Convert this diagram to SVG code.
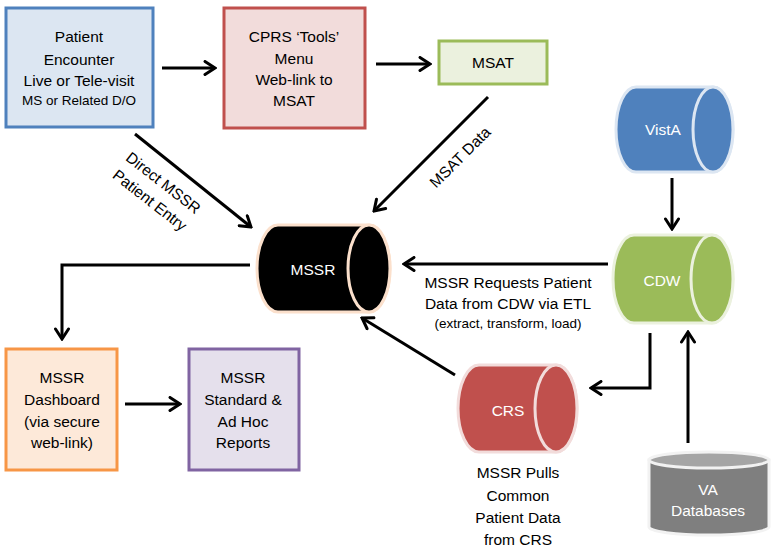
<svg xmlns="http://www.w3.org/2000/svg" width="776" height="549" viewBox="0 0 776 549">
<defs>
<marker id="ah" viewBox="0 0 14 16" refX="12" refY="8" markerWidth="14" markerHeight="16" orient="auto" markerUnits="userSpaceOnUse">
<path d="M2,1.5 L12,8 L2,14.5" fill="none" stroke="#000" stroke-width="3" stroke-linecap="round" stroke-linejoin="miter"/>
</marker>
<style>
text{font-family:"Liberation Sans","Noto Sans",Arial,sans-serif;text-anchor:middle;dominant-baseline:central;fill:#000}
.t16{font-size:15.5px}
.t14{font-size:13.5px}
.w{fill:#fff}
.conn{fill:none;stroke:#000;stroke-width:3;marker-end:url(#ah)}
.ln{fill:none;stroke:#000;stroke-width:3}
</style>
</defs>
<rect width="776" height="549" fill="#fff"/>

<g id="patient-encounter">
<rect x="6" y="8" width="147" height="119" fill="#dce6f2" stroke="#4f81bd" stroke-width="3"/>
<text class="t16" x="79" y="36">Patient</text>
<text class="t16" x="79" y="59">Encounter</text>
<text class="t16" x="79" y="80">Live or Tele-visit</text>
<text class="t14" x="79" y="100">MS or Related D/O</text>
</g>

<g id="cprs">
<rect x="224" y="8" width="141" height="120" fill="#f2dcdb" stroke="#c0504d" stroke-width="3"/>
<text class="t16" x="294" y="36">CPRS ‘Tools’</text>
<text class="t16" x="294" y="58">Menu</text>
<text class="t16" x="294" y="79">Web-link to</text>
<text class="t16" x="294" y="100">MSAT</text>
</g>

<g id="msat">
<rect x="439" y="41" width="108" height="43" fill="#ebf1de" stroke="#9bbb59" stroke-width="3"/>
<text class="t16" x="493" y="62">MSAT</text>
</g>

<g id="vista">
<path d="M636,87 L713,87 A20,42.5 0 0 1 713,172 L636,172 A20,42.5 0 0 1 636,87 Z" fill="#4f81bd" stroke="#dce6f2" stroke-width="3"/>
<ellipse cx="713" cy="129.5" rx="20" ry="42.5" fill="#4f81bd" stroke="#dce6f2" stroke-width="3"/>
<text class="t16 w" x="663" y="129">VistA</text>
</g>

<g id="mssr">
<path d="M278,225 L369,225 A21,43.5 0 0 1 369,312 L278,312 A21,43.5 0 0 1 278,225 Z" fill="#000" stroke="#fbe0cc" stroke-width="3"/>
<ellipse cx="369" cy="268.5" rx="21" ry="43.5" fill="#000" stroke="#fbe0cc" stroke-width="3"/>
<text class="t16 w" x="313" y="269">MSSR</text>
</g>

<g id="cdw">
<path d="M634,235 L712,235 A21,44 0 0 1 712,323 L634,323 A21,44 0 0 1 634,235 Z" fill="#9bbb59" stroke="#ebf1de" stroke-width="3"/>
<ellipse cx="712" cy="279" rx="21" ry="44" fill="#9bbb59" stroke="#ebf1de" stroke-width="3"/>
<text class="t16 w" x="662" y="280">CDW</text>
</g>

<g id="crs">
<path d="M479,365 L556,365 A21,43.5 0 0 1 556,452 L479,452 A21,43.5 0 0 1 479,365 Z" fill="#c0504d" stroke="#f2dcdb" stroke-width="3"/>
<ellipse cx="556" cy="408.5" rx="21" ry="43.5" fill="#c0504d" stroke="#f2dcdb" stroke-width="3"/>
<text class="t16 w" x="508" y="410">CRS</text>
</g>

<g id="va-databases">
<path d="M649,460 L649,527 A60,8 0 0 0 769,527 L769,460 Z" fill="#7f7f7f" stroke="#f2f2f2" stroke-width="3"/>
<ellipse cx="709" cy="460" rx="60" ry="8" fill="#a5a5a5" stroke="#f2f2f2" stroke-width="3"/>
<text class="t16 w" x="708" y="489">VA</text>
<text class="t16 w" x="708" y="510">Databases</text>
</g>

<g id="dashboard">
<rect x="6" y="349" width="111" height="121" fill="#fde9d9" stroke="#f79646" stroke-width="3"/>
<text class="t16" x="62" y="377">MSSR</text>
<text class="t16" x="62" y="399">Dashboard</text>
<text class="t16" x="62" y="421">(via secure</text>
<text class="t16" x="62" y="442">web-link)</text>
</g>

<g id="reports">
<rect x="189" y="349" width="110" height="121" fill="#e5e0ec" stroke="#8064a2" stroke-width="3"/>
<text class="t16" x="243" y="377">MSSR</text>
<text class="t16" x="243" y="399">Standard &amp;</text>
<text class="t16" x="243" y="421">Ad Hoc</text>
<text class="t16" x="243" y="442">Reports</text>
</g>

<g id="connectors">
<line class="conn" x1="162" y1="68" x2="215" y2="68"/>
<line class="conn" x1="376" y1="64" x2="430" y2="64"/>
<line class="conn" x1="488" y1="97" x2="374" y2="211"/>
<line class="conn" x1="135" y1="134" x2="251" y2="227"/>
<line class="conn" x1="672" y1="178" x2="672" y2="229"/>
<line class="conn" x1="608" y1="264" x2="404" y2="264"/>
<path class="conn" d="M250,265 L62,265 L62,339"/>
<line class="conn" x1="125" y1="404" x2="180" y2="404"/>
<path class="conn" d="M650,333 L650,388 L591,388"/>
<line class="conn" x1="455" y1="375" x2="362" y2="318"/>
<line class="conn" x1="688" y1="443" x2="688" y2="332"/>
<text class="t16" transform="translate(460,157) rotate(-45)">MSAT Data</text>
<text class="t16" transform="translate(157,191) rotate(38)"><tspan x="0" y="-11">Direct MSSR</tspan><tspan x="0" y="11">Patient Entry</tspan></text>
<text class="t16" x="508" y="282">MSSR Requests Patient</text>
<text class="t16" x="508" y="303">Data from CDW via ETL</text>
<text class="t14" x="508" y="323">(extract, transform, load)</text>
<text class="t16" x="518" y="472">MSSR Pulls</text>
<text class="t16" x="518" y="495">Common</text>
<text class="t16" x="518" y="517">Patient Data</text>
<text class="t16" x="518" y="539">from CRS</text>
</g>
</svg>
